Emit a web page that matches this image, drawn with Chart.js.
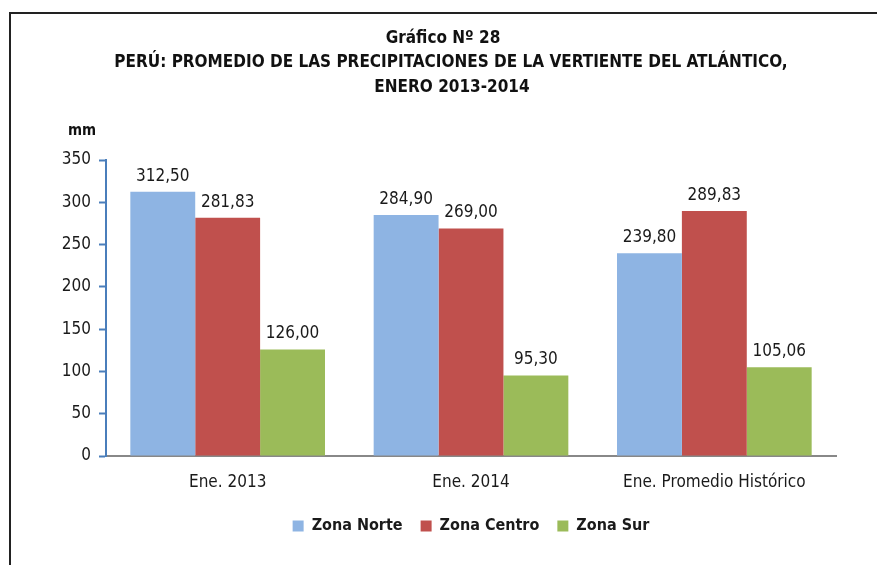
<!DOCTYPE html>
<html>
<head>
<meta charset="utf-8">
<script src="https://cdn.jsdelivr.net/npm/chart.js@4"></script>
<style>
  html, body { margin: 0; padding: 0; background: #fff; }
  #wrap { position: relative; width: 877px; height: 565px; }
  #frame { position: absolute; left: 9px; top: 12px; right: -5px; bottom: -5px; border-left: 2px solid #222; border-top: 2px solid #222; pointer-events: none; }
</style>
</head>
<body>
<div id="wrap">
  <canvas id="grafico" width="877" height="565"></canvas>
  <div id="frame"></div>
</div>
<script>
const categorias = ['Ene. 2013', 'Ene. 2014', 'Ene. Promedio Histórico'];
const zonaNorte = [312.50, 284.90, 239.80];
const zonaCentro = [281.83, 269.00, 289.83];
const zonaSur = [126.00, 95.30, 105.06];
const ticksY = [0, 50, 100, 150, 200, 250, 300, 350];

const fuente = "'Liberation Sans Narrow', 'Arial Narrow', 'DejaVu Sans Condensed', sans-serif";
Chart.defaults.font.family = fuente;
Chart.defaults.color = '#1a1a1a';

const titulos = {
  id: 'titulos',
  afterDraw(chart) {
    const c = chart.ctx;
    c.save();
    c.fillStyle = '#111';
    c.textAlign = 'center';
    c.textBaseline = 'middle';
    c.font = 'bold 17px ' + fuente;
    c.fillText('Gráfico Nº 28', 443, 39);
    c.fillText('PERÚ: PROMEDIO DE LAS PRECIPITACIONES DE LA VERTIENTE DEL ATLÁNTICO,', 451, 63);
    c.fillText('ENERO 2013-2014', 452, 88);
    c.font = 'bold 15px ' + fuente;
    c.fillText('mm', 82, 131);
    c.restore();
  }
};

const etiquetas = {
  id: 'etiquetas',
  afterDatasetsDraw(chart) {
    const c = chart.ctx;
    c.save();
    c.fillStyle = '#1a1a1a';
    c.textAlign = 'center';
    c.textBaseline = 'bottom';
    c.font = '17px ' + fuente;
    chart.data.datasets.forEach((ds, i) => {
      chart.getDatasetMeta(i).data.forEach((bar, j) => {
        c.fillText(ds.data[j].toFixed(2).replace('.', ','), bar.x, bar.y - 7);
      });
    });
    c.restore();
  }
};

new Chart(document.getElementById('grafico'), {
  type: 'bar',
  data: {
    labels: categorias,
    datasets: [
      { label: 'Zona Norte', data: zonaNorte, backgroundColor: '#8EB4E3' },
      { label: 'Zona Centro', data: zonaCentro, backgroundColor: '#C0504D' },
      { label: 'Zona Sur', data: zonaSur, backgroundColor: '#9BBB59' }
    ]
  },
  options: {
    responsive: false,
    animation: false,
    layout: { padding: { top: 160, left: 10, right: 41, bottom: 21 } },
    datasets: { bar: { categoryPercentage: 0.8, barPercentage: 1 } },
    scales: {
      x: {
        grid: { display: false },
        border: { color: '#888', width: 2 },
        ticks: { font: { size: 17 }, padding: 8 },
        afterFit: s => { s.height = 44; }
      },
      y: {
        min: 0,
        max: 350,
        afterBuildTicks: s => { s.ticks = ticksY.map(v => ({ value: v })); },
        grid: { drawOnChartArea: false, tickLength: 7, tickColor: '#4A7EBB', tickWidth: 2 },
        border: { color: '#4A7EBB', width: 2 },
        ticks: { font: { size: 17 }, padding: 8 },
        afterFit: s => { s.width = 96; }
      }
    },
    plugins: {
      legend: {
        position: 'bottom',
        fullSize: false,
        labels: { boxWidth: 11, boxHeight: 11, padding: 18, font: { size: 16, weight: 'bold' } }
      },
      tooltip: { enabled: false }
    }
  },
  plugins: [titulos, etiquetas]
});
</script>
</body>
</html>
